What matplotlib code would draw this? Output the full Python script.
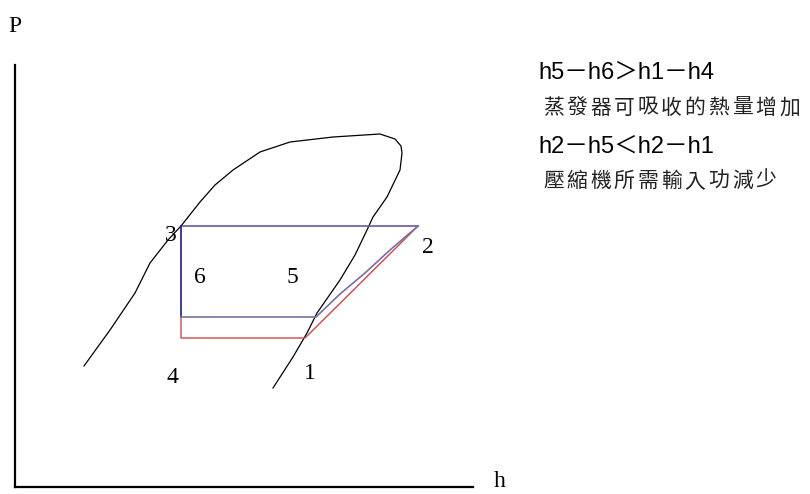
import matplotlib
matplotlib.use('Agg')
import matplotlib.pyplot as plt

# saturation dome (pixel-ish units, y downwards)
dome_h = [84, 110, 135, 150, 168, 181, 200, 215, 233, 260, 290, 333, 380, 395, 401, 402, 400,
          387, 373, 367, 355, 340, 317, 307, 293, 273]
dome_p = [366, 330, 293, 263, 240, 226, 202, 185, 170, 152, 142, 137, 134, 139, 146, 153, 170,
          197, 217, 230, 255, 280, 313, 333, 357, 388]

# original cycle (red) and improved cycle (blue)
red_h = [181, 181, 305, 418]
red_p = [317, 338, 338, 226]
blue_h = [181, 316, 340, 365, 390, 418]
blue_p = [317, 317, 294, 273, 250, 226]
top_h = [181, 418]
top_p = [226, 226]
left_h = [181, 181]
left_p = [226, 317]

point_labels = ['3', '2', '6', '5', '4', '1']
label_h = [171, 428, 200, 292, 172, 310]
label_p = [235, 247, 277, 277, 377, 373]

notes = ['h5－h6＞h1－h4', '蒸發器可吸收的熱量增加', 'h2－h5＜h2－h1', '壓縮機所需輸入功減少']
note_p = [73, 108, 147, 181]

fig = plt.figure(figsize=(8.1, 4.94), dpi=100)
ax = fig.add_axes([0, 0, 1, 1])
ax.set_xlim(0, 810)
ax.set_ylim(494, 0)
ax.axis('off')

ax.plot([15, 15], [65, 487], color='black', lw=1.6)
ax.plot([15, 473], [487, 487], color='black', lw=1.6)
ax.text(15, 27, 'P', fontsize=17, family='Liberation Serif', ha='center', va='center')
ax.text(500, 481, 'h', fontsize=17, family='Liberation Serif', ha='center', va='center')

ax.plot(dome_h, dome_p, color='black', lw=0.9)
ax.plot(top_h, top_p, color='#6a5a9c', lw=1.2)
ax.plot(left_h, left_p, color='#1a1a8a', lw=1.2)
ax.plot(red_h, red_p, color='#d04848', lw=1.0)
ax.plot(blue_h, blue_p, color='#7a6ea6', lw=1.2)

for s, x, y in zip(point_labels, label_h, label_p):
    ax.text(x, y, s, fontsize=17, family='Liberation Serif', ha='center', va='center')

# the Chinese lines are spaced out wide in the original, so set them glyph by glyph
for i, (s, y) in enumerate(zip(notes, note_p)):
    if i % 2 == 0:
        ax.text(538, y, s, fontsize=17, family=['Liberation Sans', 'Noto Sans CJK TC'],
                ha='left', va='center')
    else:
        for k, ch in enumerate(s):
            ax.text(543 + k * 23.6, y, ch, fontsize=15, family=['Noto Sans CJK TC', 'DejaVu Sans'],
                    ha='left', va='center', color='#222222')

fig.savefig('out.png', dpi=100)
